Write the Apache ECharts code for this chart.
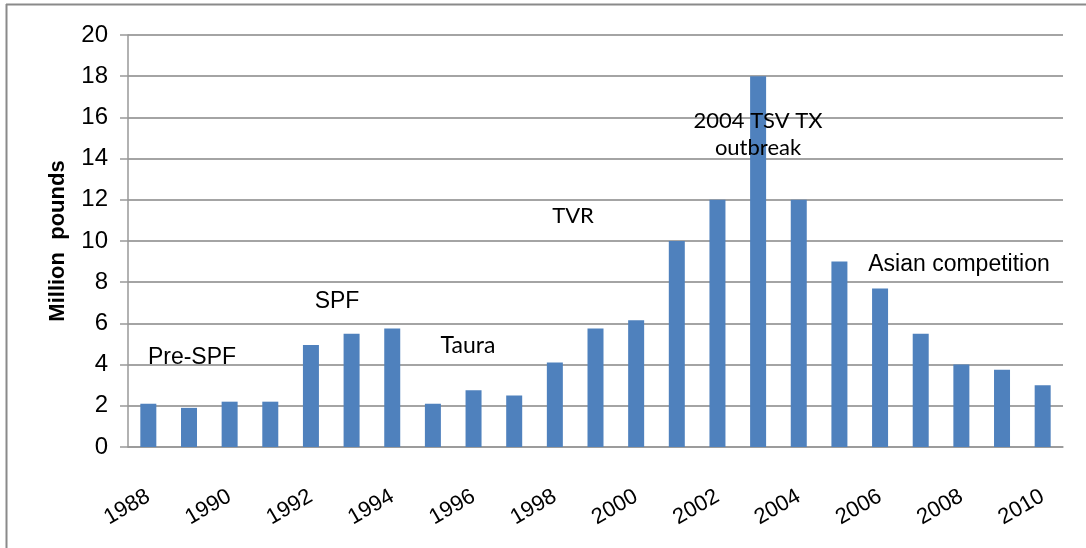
<!DOCTYPE html>
<html>
<head>
<meta charset="utf-8">
<script src="https://cdn.jsdelivr.net/npm/echarts@6/dist/echarts.min.js"></script>
<style>
html,body{margin:0;padding:0;background:#fff;}
#chart{width:1086px;height:548px;}
</style>
</head>
<body>
<div id="chart"></div>
<script>
// ---- data ----
const years = ['1988','1989','1990','1991','1992','1993','1994','1995','1996','1997','1998','1999',
               '2000','2001','2002','2003','2004','2005','2006','2007','2008','2009','2010'];
const production = [2.1, 1.9, 2.2, 2.2, 4.95, 5.5, 5.75, 2.1, 2.75, 2.5, 4.1, 5.75,
                    6.15, 10, 12, 18, 12, 9, 7.7, 5.5, 4, 3.75, 3];
const yTicks = [0, 2, 4, 6, 8, 10, 12, 14, 16, 18, 20];
const yAxisTitle = 'Million  pounds';
const notes = ['Pre-SPF', 'SPF', 'Taura', 'TVR', '2004 TSV TX\noutbreak', 'Asian competition'];

const chart = echarts.init(document.getElementById('chart'));
const arial = 'Liberation Sans, Arial, sans-serif';
const gill = 'Lato, sans-serif';

function note(text, x, y, font, size) {
  return {
    type: 'text', x: x, y: y, z: 100,
    style: { text: text, fill: '#000', font: size + 'px ' + font,
             textAlign: 'center', textVerticalAlign: 'middle', lineHeight: 27 }
  };
}

chart.setOption({
  animation: false,
  backgroundColor: '#fff',
  grid: { left: 128, right: 23, top: 35, bottom: 101, containLabel: false },
  xAxis: {
    type: 'category',
    data: years,
    axisLine: { show: true, lineStyle: { color: '#999', width: 1.5 } },
    axisTick: { show: false },
    axisLabel: { interval: 1, rotate: 30, margin: 48, color: '#000',
                 fontFamily: arial, fontSize: 22 },
    splitLine: { show: false }
  },
  yAxis: {
    type: 'value',
    min: yTicks[0], max: yTicks[yTicks.length - 1], interval: 2,
    name: yAxisTitle,
    nameLocation: 'middle',
    nameGap: 59,
    nameTextStyle: { fontFamily: arial, fontWeight: 'bold', fontSize: 22, color: '#000' },
    axisLine: { show: true, lineStyle: { color: '#999', width: 1.5 } },
    axisTick: { show: true, inside: false, length: 8, lineStyle: { color: '#999', width: 1.5 } },
    axisLabel: { margin: 20, color: '#000', fontFamily: arial, fontSize: 24 },
    splitLine: { show: true, lineStyle: { color: '#a4a4a4', width: 2 } }
  },
  series: [{
    type: 'bar',
    data: production,
    barWidth: 16,
    itemStyle: { color: '#4F81BD' }
  }],
  graphic: [
    { type: 'line', shape: { x1: 6, y1: 4.5, x2: 1086, y2: 4.5 }, style: { stroke: '#8a8a8a', lineWidth: 2 } },
    { type: 'line', shape: { x1: 6.5, y1: 4, x2: 6.5, y2: 548 }, style: { stroke: '#8a8a8a', lineWidth: 2 } },
    note(notes[0], 192, 358, arial, 23),
    note(notes[1], 337, 302, arial, 23),
    note(notes[2], 468, 346, gill, 23),
    note(notes[3], 573, 216, gill, 22),
    note(notes[4], 758, 134, gill, 22),
    note(notes[5], 959, 265, arial, 23)
  ]
});
</script>
</body>
</html>
